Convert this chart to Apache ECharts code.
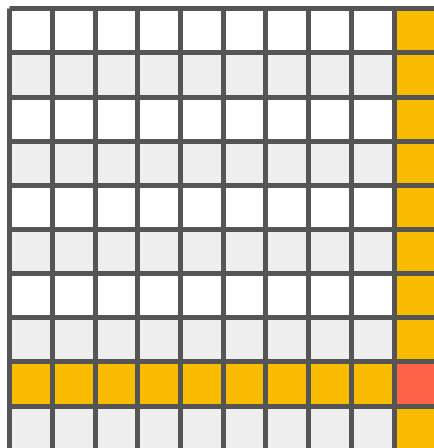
<!DOCTYPE html>
<html>
<head>
<meta charset="utf-8">
<script src="https://cdn.jsdelivr.net/npm/echarts@6/dist/echarts.min.js"></script>
<style>
  html, body { margin: 0; padding: 0; background: #fff; }
  #main { width: 434px; height: 448px; }
</style>
</head>
<body>
<div id="main"></div>
<script>
// grid of cells, one code per cell (0 plain, 1 shaded, 2 highlight, 3 crossing)
var cols = ['0', '1', '2', '3', '4', '5', '6', '7', '8', '9'];
var rows = ['0', '1', '2', '3', '4', '5', '6', '7', '8', '9'];
var cells = [
  [0, 0, 0, 0, 0, 0, 0, 0, 0, 2],
  [1, 1, 1, 1, 1, 1, 1, 1, 1, 2],
  [0, 0, 0, 0, 0, 0, 0, 0, 0, 2],
  [1, 1, 1, 1, 1, 1, 1, 1, 1, 2],
  [0, 0, 0, 0, 0, 0, 0, 0, 0, 2],
  [1, 1, 1, 1, 1, 1, 1, 1, 1, 2],
  [0, 0, 0, 0, 0, 0, 0, 0, 0, 2],
  [1, 1, 1, 1, 1, 1, 1, 1, 1, 2],
  [2, 2, 2, 2, 2, 2, 2, 2, 2, 3],
  [1, 1, 1, 1, 1, 1, 1, 1, 1, 2]
];

var data = [];
cells.forEach(function (row, y) {
  row.forEach(function (v, x) {
    data.push([x, y, v]);
  });
});

var gridLine = { show: true, lineStyle: { color: '#555555', width: 5 } };

var myChart = echarts.init(document.getElementById('main'));
var option = {
  backgroundColor: '#fff',
  animation: false,
  grid: {
    left: 9.5, top: 8.5, width: 427, height: 441.5,
    outerBoundsMode: 'none',
    containLabel: false
  },
  xAxis: {
    type: 'category',
    data: cols,
    z: 5,
    axisLine: { show: false },
    axisTick: { show: false },
    axisLabel: { show: false },
    splitLine: gridLine
  },
  yAxis: {
    type: 'category',
    data: rows,
    inverse: true,
    z: 5,
    axisLine: { show: false },
    axisTick: { show: false },
    axisLabel: { show: false },
    splitLine: gridLine
  },
  visualMap: {
    type: 'piecewise',
    show: false,
    dimension: 2,
    pieces: [
      { value: 0, color: '#ffffff' },
      { value: 1, color: '#eeeeee' },
      { value: 2, color: '#f9bc00' },
      { value: 3, color: '#ff6347' }
    ]
  },
  series: [{
    type: 'heatmap',
    data: data,
    itemStyle: { borderWidth: 0 },
    emphasis: { disabled: true }
  }]
};
myChart.setOption(option);
</script>
</body>
</html>
